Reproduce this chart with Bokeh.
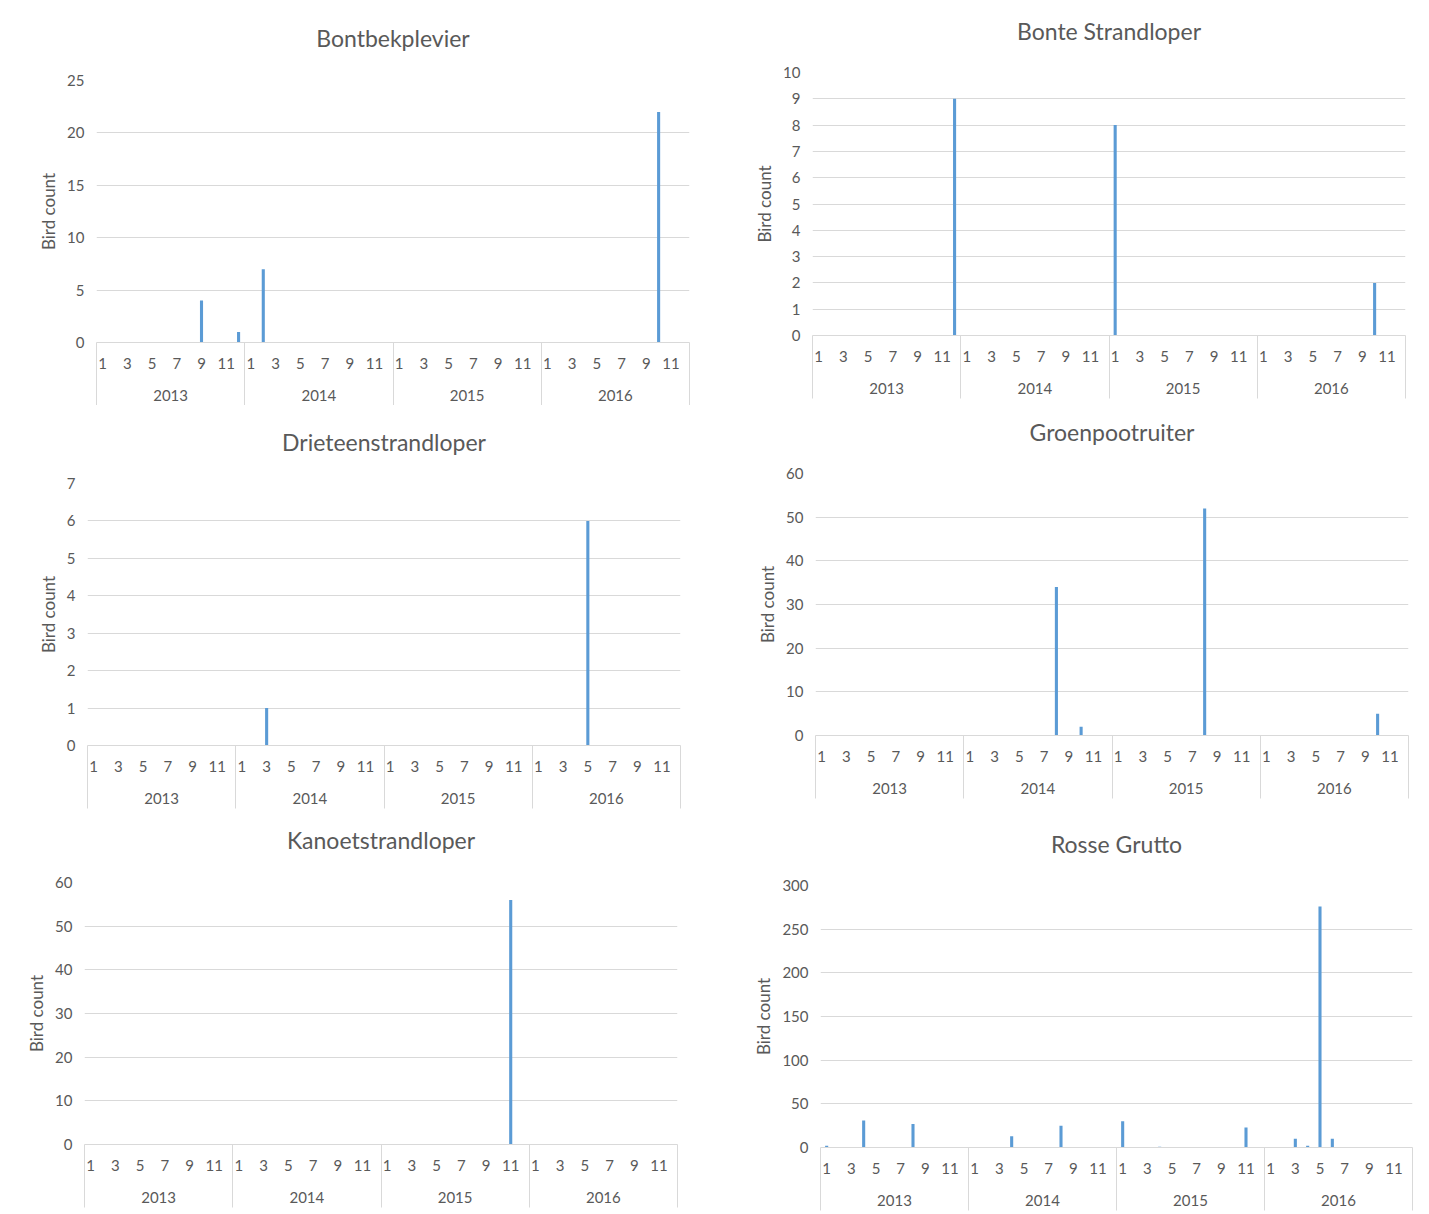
from bokeh.plotting import figure
from bokeh.models import Range1d, FixedTicker, LinearAxis, Title
from bokeh.layouts import column, row
from bokeh.embed import file_html
from bokeh.resources import INLINE

# ---------------- data ----------------
years = ["2013", "2014", "2015", "2016"]
month_tick_labels = ["1", "3", "5", "7", "9", "11"]

bontbekplevier_periods = ["2013-09", "2013-12", "2014-02", "2016-10"]
bontbekplevier_counts = [4, 1, 7, 22]

bonte_strandloper_periods = ["2013-12", "2015-01", "2016-10"]
bonte_strandloper_counts = [9, 8, 2]

drieteenstrandloper_periods = ["2014-03", "2016-05"]
drieteenstrandloper_counts = [1, 6]

groenpootruiter_periods = ["2014-08", "2014-10", "2015-08", "2016-10"]
groenpootruiter_counts = [34, 2, 52, 5]

kanoetstrandloper_periods = ["2015-11"]
kanoetstrandloper_counts = [56]

rosse_grutto_periods = ["2013-01", "2013-04", "2013-08", "2014-04", "2014-08", "2015-01",
                        "2015-04", "2015-11", "2016-03", "2016-04", "2016-05", "2016-06"]
rosse_grutto_counts = [2, 31, 27, 13, 25, 30, 1, 23, 10, 2, 276, 10]

y_axis_label = "Bird count"

BAR = "#5B9BD5"
GRID = "#D9D9D9"
TXT = "#595959"
FONT = "Lato"
TICK_FS = "15px"


def month_x(period):
    y, m = period.split("-")
    i = (int(y) - int(years[0])) * 12 + int(m)
    return 2 * i - 1


def make_panel(title, periods, counts, ymax, ystep, width, height,
               bl, br, bt, bb, title_gap=20, sep=63):
    p = figure(width=width, height=height, x_range=Range1d(0, 2 * 12 * len(years)),
               y_range=Range1d(0, ymax), output_backend="svg", toolbar_location=None,
               x_axis_type=None, min_border_left=bl, min_border_right=br,
               min_border_top=bt, min_border_bottom=bb)
    p.outline_line_color = None
    p.background_fill_color = "white"
    p.border_fill_color = "white"

    p.title.text = title
    p.title.align = "center"
    p.title.text_font = FONT
    p.title.text_font_size = "23px"
    p.title.text_font_style = "normal"
    p.title.text_color = TXT
    p.title.standoff = 10
    gap = Title(text=" ", text_font_size="1px", standoff=title_gap)
    p.add_layout(gap, "above")

    yt = FixedTicker(ticks=list(range(0, ymax + 1, ystep)))
    ax = p.yaxis[0]
    ax.ticker = yt
    ax.axis_line_color = None
    ax.major_tick_line_color = None
    ax.minor_tick_line_color = None
    ax.major_tick_out = 0
    ax.major_tick_in = 0
    ax.minor_tick_out = 0
    ax.minor_tick_in = 0
    ax.major_label_standoff = 12
    ax.major_label_text_font = FONT
    ax.major_label_text_font_size = TICK_FS
    ax.major_label_text_color = TXT
    ax.axis_label = y_axis_label
    ax.axis_label_text_font = FONT
    ax.axis_label_text_font_size = "17px"
    ax.axis_label_text_font_style = "normal"
    ax.axis_label_text_color = TXT
    ax.axis_label_standoff = 5
    p.ygrid.ticker = yt
    p.ygrid.grid_line_color = GRID
    p.ygrid.grid_line_width = 1

    xs = [month_x(pr) for pr in periods]
    p.vbar(x=xs, top=counts, width=0.5, bottom=0, fill_color=BAR, line_color=None)

    mticks, mover = [], {}
    for y in years:
        for lab in month_tick_labels:
            x = month_x(f"{y}-{int(lab):02d}")
            mticks.append(x)
            mover[x] = lab
    bounds = [24 * k for k in range(len(years) + 1)]
    max_ax = LinearAxis(ticker=FixedTicker(ticks=mticks, minor_ticks=bounds),
                        major_label_overrides=mover)
    max_ax.major_tick_in = 0
    max_ax.major_tick_out = 0
    max_ax.major_tick_line_color = None
    max_ax.minor_tick_in = 0
    max_ax.minor_tick_out = sep
    max_ax.minor_tick_line_color = GRID
    max_ax.axis_line_color = GRID
    max_ax.major_label_standoff = 15 - sep
    max_ax.major_label_text_font = FONT
    max_ax.major_label_text_font_size = TICK_FS
    max_ax.major_label_text_color = TXT
    p.add_layout(max_ax, "below")

    yticks = [24 * k + 12 for k in range(len(years))]
    yover = {t: y for t, y in zip(yticks, years)}
    yr_ax = LinearAxis(ticker=FixedTicker(ticks=yticks), major_label_overrides=yover)
    yr_ax.major_tick_line_color = None
    yr_ax.minor_tick_line_color = None
    yr_ax.major_tick_out = 0
    yr_ax.major_tick_in = 0
    yr_ax.minor_tick_out = 0
    yr_ax.minor_tick_in = 0
    yr_ax.axis_line_color = None
    yr_ax.major_label_standoff = 18
    yr_ax.major_label_text_font = FONT
    yr_ax.major_label_text_font_size = TICK_FS
    yr_ax.major_label_text_color = TXT
    p.add_layout(yr_ax, "below")
    return p


p1 = make_panel("Bontbekplevier", bontbekplevier_periods, bontbekplevier_counts, 25, 5,
                750, 405, 96, 61, 80, 63, title_gap=21)
p2 = make_panel("Bonte Strandloper", bonte_strandloper_periods, bonte_strandloper_counts, 10, 1,
                679, 405, 62, 24, 72, 70, title_gap=20)
p3 = make_panel("Drieteenstrandloper", drieteenstrandloper_periods, drieteenstrandloper_counts, 7, 1,
                750, 407, 87, 70, 78, 67, title_gap=20)
p4 = make_panel("Groenpootruiter", groenpootruiter_periods, groenpootruiter_counts, 60, 10,
                679, 407, 65, 21, 68, 77, title_gap=20)
p5 = make_panel("Kanoetstrandloper", kanoetstrandloper_periods, kanoetstrandloper_counts, 60, 10,
                750, 402, 84, 73, 70, 70, title_gap=21)
p6 = make_panel("Rosse Grutto", rosse_grutto_periods, rosse_grutto_counts, 300, 50,
                679, 402, 70, 17, 73, 67, title_gap=20)

layout = column(row(column(p1), column(p2)),
                row(column(p3), column(p4)),
                row(column(p5), column(p6)))

open("out.html", "w").write(file_html(layout, INLINE))
